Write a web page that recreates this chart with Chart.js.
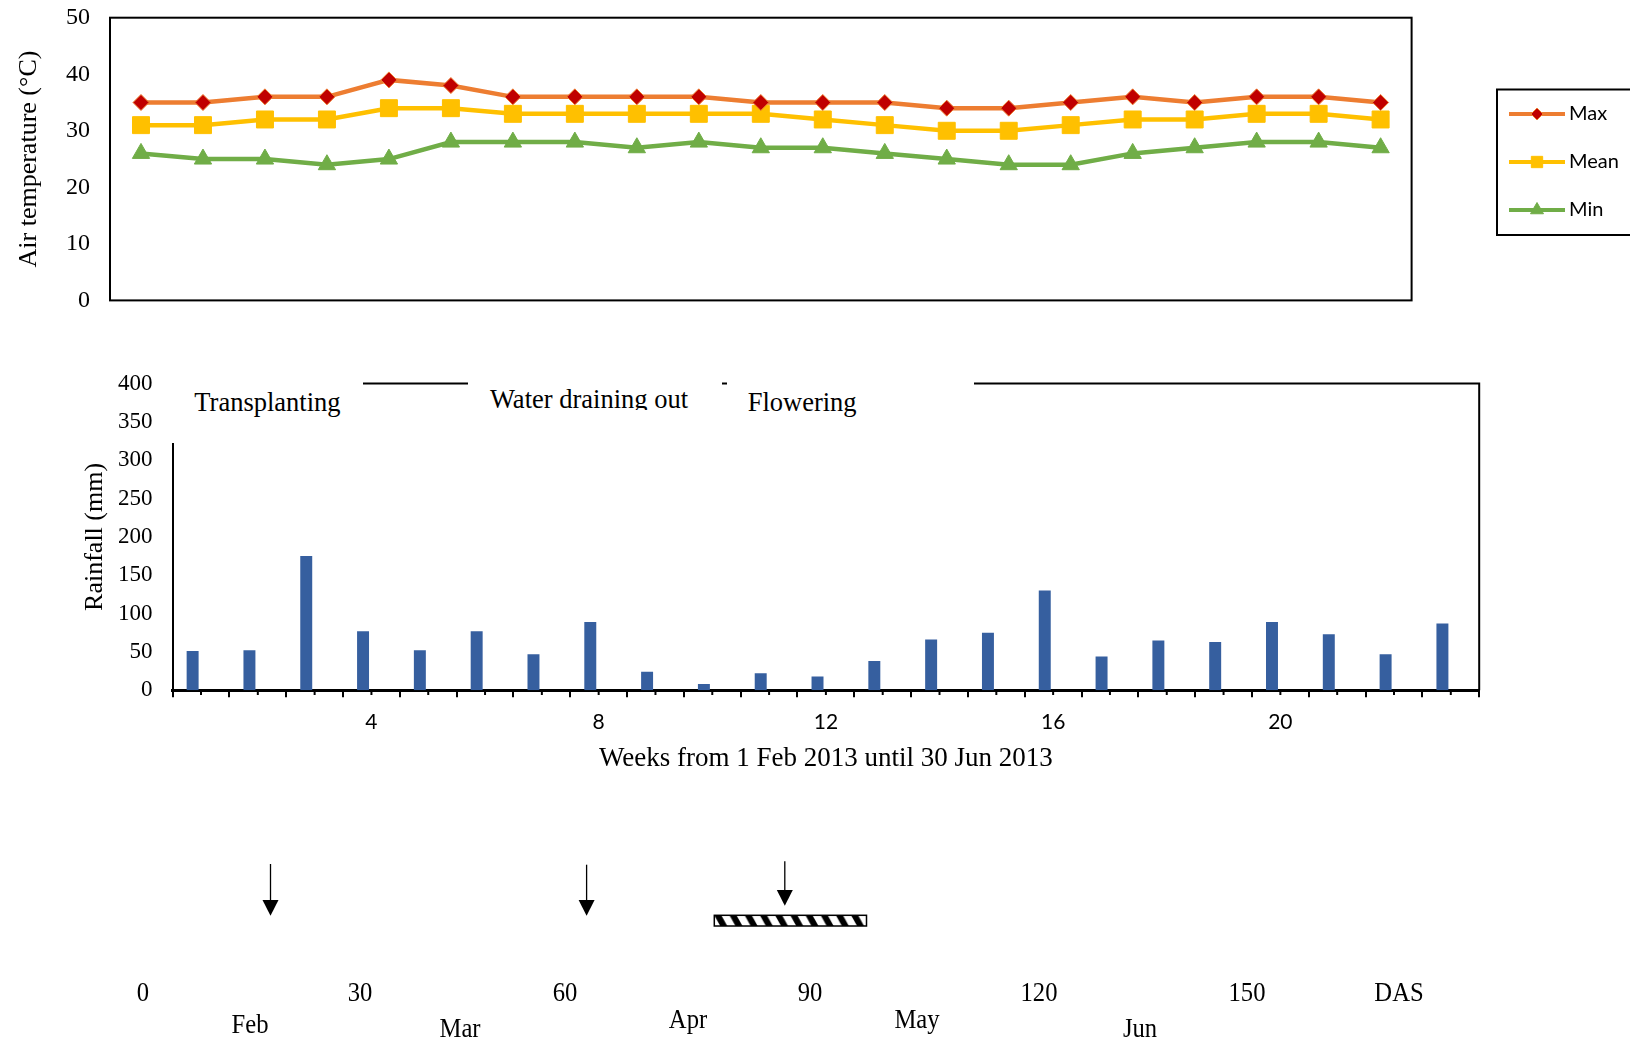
<!DOCTYPE html>
<html>
<head>
<meta charset="utf-8">
<script src="https://cdn.jsdelivr.net/npm/chart.js@4.4.1/dist/chart.umd.min.js"></script>
<style>
  html, body { margin: 0; padding: 0; background: #fff; }
  body { width: 1630px; height: 1043px; position: relative; overflow: hidden; }
  canvas { position: absolute; left: 0; }
  #temp { top: 0; }
  #rain { top: 340px; }
  .stage { position: absolute; background: #fff; overflow: hidden; }
  .stage span { position: absolute; font: 26.5px/26.5px 'Liberation Serif', serif; color: #000; white-space: nowrap; }
  .tl { position: absolute; font: 28px/28px 'Liberation Serif', serif; color: #000; white-space: nowrap;
        transform: translate(-50%, -50%) scaleX(0.88); }
  svg { position: absolute; left: 0; top: 0; }
</style>
</head>
<body>
<canvas id="temp" width="1630" height="330"></canvas>
<canvas id="rain" width="1520" height="440"></canvas>
<div id="stages"></div>
<svg width="1630" height="1043" id="timeline">
  <defs>
    <pattern id="hatch" patternUnits="userSpaceOnUse" x="714.3" y="915.3" width="15.2" height="10.7">
      <polygon points="0,0 7,0 13,10.7 6,10.7" fill="#000"/>
    </pattern>
  </defs>
</svg>
<div id="labels"></div>
<script>
// air temperature, weekly (°C)
const tempWeeks = ['1','2','3','4','5','6','7','8','9','10','11','12','13','14','15','16','17','18','19','20','21'];
const tempMax  = [35,35,36,36,39,38,36,36,36,36,35,35,35,34,34,35,36,35,36,36,35];
const tempMean = [31,31,32,32,34,34,33,33,33,33,33,32,31,30,30,31,32,32,33,33,32];
const tempMin  = [26,25,25,24,25,28,28,28,27,28,27,27,26,25,24,24,26,27,28,28,27];
const tempTicks = [0, 10, 20, 30, 40, 50];

// weekly rainfall (mm)
const rainWeeks = ['1','2','3','4','5','6','7','8','9','10','11','12','13','14','15','16','17','18','19','20','21','22','23'];
const rainfall = [51,52,175,77,52,77,47,89,24,8,22,18,38,66,75,130,44,65,63,89,73,47,87];
const weekTickLabels = ['4','8','12','16','20'];
const rainTicks = [0, 50, 100, 150, 200, 250, 300, 350, 400];

// crop stages and timeline text
const stageLabels = ['Transplanting', 'Water draining out', 'Flowering'];
const dasLabels = ['0', '30', '60', '90', '120', '150', 'DAS'];
const monthLabels = ['Feb', 'Mar', 'Apr', 'May', 'Jun'];

const serif = 'Liberation Serif';

// frame round the temperature plot
const tempFrame = {
    id: 'tempFrame',
    beforeDatasetsDraw(chart) {
        const {ctx, chartArea: a} = chart;
        ctx.save();
        ctx.strokeStyle = '#000';
        ctx.lineWidth = 2;
        ctx.strokeRect(a.left, a.top, a.right - a.left, a.bottom - a.top);
        ctx.restore();
    }
};

// boxed legend to the right, same styles as the datasets
const legendRadius = [6, 8, 7.5];
const boxLegend = {
    id: 'boxLegend',
    afterDraw(chart) {
        const ctx = chart.ctx;
        ctx.save();
        ctx.strokeStyle = '#000';
        ctx.lineWidth = 2;
        ctx.strokeRect(1497, 89.5, 200, 145.5);
        chart.data.datasets.forEach((ds, i) => {
            const y = 114 + i * 48;
            ctx.strokeStyle = ds.borderColor;
            ctx.lineWidth = 4;
            ctx.beginPath();
            ctx.moveTo(1509, y);
            ctx.lineTo(1565, y);
            ctx.stroke();
            ctx.fillStyle = ds.pointBackgroundColor;
            ctx.strokeStyle = ds.pointBorderColor;
            ctx.lineWidth = 1;
            Chart.helpers.drawPoint(ctx, {pointStyle: ds.pointStyle, radius: legendRadius[i], borderWidth: 1, rotation: 0}, 1537, y);
            ctx.fillStyle = '#000';
            ctx.font = '20px Lato';
            ctx.textBaseline = 'middle';
            ctx.textAlign = 'left';
            ctx.fillText(ds.label, 1569, y);
        });
        ctx.restore();
    }
};

new Chart(document.getElementById('temp'), {
    type: 'line',
    data: {
        labels: tempWeeks,
        datasets: [
            {
                label: 'Max',
                data: tempMax,
                borderColor: '#ED7D31',
                borderWidth: 4.5,
                pointStyle: 'rectRot',
                pointRadius: 8,
                pointBackgroundColor: '#C00000',
                pointBorderColor: '#ED7D31',
                pointBorderWidth: 1
            },
            {
                label: 'Mean',
                data: tempMean,
                borderColor: '#FFC000',
                borderWidth: 4.5,
                pointStyle: 'rect',
                pointRadius: 12,
                pointBackgroundColor: '#FFC000',
                pointBorderColor: '#FFC000',
                pointBorderWidth: 1
            },
            {
                label: 'Min',
                data: tempMin,
                borderColor: '#70AD47',
                borderWidth: 4.5,
                pointStyle: 'triangle',
                pointRadius: 10,
                pointBackgroundColor: '#70AD47',
                pointBorderColor: '#70AD47',
                pointBorderWidth: 1
            }
        ]
    },
    options: {
        responsive: false,
        animation: false,
        layout: { padding: { left: 0, top: 17.7, right: 218.4, bottom: 29.6 } },
        scales: {
            x: { type: 'category', offset: true, display: false },
            y: {
                min: tempTicks[0],
                max: tempTicks[tempTicks.length - 1],
                // invisible tick marks give the gap between labels and frame
                grid: { display: false, drawTicks: true, tickLength: 20 },
                border: { display: false },
                ticks: { stepSize: 10, padding: 0, color: '#000', font: { family: serif, size: 24 } },
                title: {
                    display: true,
                    text: 'Air temperature (°C)',
                    color: '#000',
                    font: { family: serif, size: 26 },
                    padding: { top: 13.2, bottom: 0 }
                },
                afterFit: (s) => { s.width = 110; }
            }
        },
        plugins: {
            legend: { display: false },
            tooltip: { enabled: false }
        }
    },
    plugins: [tempFrame, boxLegend]
});

// top and right edges of the rainfall frame, plus the short ticks at mid-week
const rainFrame = {
    id: 'rainFrame',
    afterDraw(chart) {
        const {ctx, chartArea: a, scales: {x}} = chart;
        ctx.save();
        ctx.strokeStyle = '#000';
        ctx.lineWidth = 2;
        ctx.beginPath();
        ctx.moveTo(a.left, a.top);
        ctx.lineTo(a.right, a.top);
        ctx.lineTo(a.right, a.bottom);
        ctx.stroke();
        rainWeeks.forEach((w, i) => {
            const px = x.getPixelForValue(i);
            ctx.beginPath();
            ctx.moveTo(px, a.bottom);
            ctx.lineTo(px, a.bottom + 4.8);
            ctx.stroke();
        });
        ctx.restore();
    }
};

// second, empty slot keeps the bars left of the week centre, as in the original
const emptySlot = rainWeeks.map(() => null);

new Chart(document.getElementById('rain'), {
    type: 'bar',
    data: {
        labels: rainWeeks,
        datasets: [
            {
                label: 'Rainfall',
                data: rainfall,
                backgroundColor: '#365F9F',
                categoryPercentage: 0.59,
                barPercentage: 0.714
            },
            {
                label: '',
                data: emptySlot,
                categoryPercentage: 0.59,
                barPercentage: 0.714
            }
        ]
    },
    options: {
        responsive: false,
        animation: false,
        layout: { padding: { left: 0, top: 43.6, right: 40.8, bottom: 0 } },
        scales: {
            x: {
                offset: true,
                grid: { display: true, offset: true, drawOnChartArea: false, drawTicks: true, tickLength: 7, lineWidth: 2, color: '#000' },
                border: { display: true, width: 3, color: '#000' },
                ticks: {
                    autoSkip: false,
                    maxRotation: 0,
                    padding: 12.7,
                    color: '#000',
                    font: { family: 'Lato', size: 21 },
                    callback: (v, i) => weekTickLabels.includes(rainWeeks[i]) ? rainWeeks[i] : ''
                },
                title: {
                    display: true,
                    text: 'Weeks from 1 Feb 2013 until 30 Jun 2013',
                    color: '#000',
                    font: { family: serif, size: 27 },
                    padding: { top: 0, bottom: 5.2 }
                },
                afterFit: (s) => { s.height = 89.8; }
            },
            y: {
                min: rainTicks[0],
                max: rainTicks[rainTicks.length - 1],
                grid: { display: false, drawTicks: true, tickLength: 20 },
                border: { display: true, width: 2, color: '#000' },
                ticks: { stepSize: 50, padding: 0, color: '#000', font: { family: serif, size: 23 } },
                title: {
                    display: true,
                    text: 'Rainfall (mm)',
                    color: '#000',
                    font: { family: serif, size: 26 },
                    padding: { top: 79.8, bottom: 0 }
                },
                afterFit: (s) => { s.width = 172.6; }
            }
        },
        plugins: {
            legend: { display: false },
            tooltip: { enabled: false }
        }
    },
    plugins: [rainFrame]
});

// white text boxes with the stage names (they hide parts of the frame)
const stageBoxes = [
    { left: 160, top: 370, width: 203.3, height: 73.3, tx: 34.3, ty: 18.6 },
    { left: 467.7, top: 370, width: 254, height: 39.5, tx: 22.3, ty: 16.4 },
    { left: 726.7, top: 370, width: 247.6, height: 60, tx: 21, ty: 18.6 }
];
const stagesEl = document.getElementById('stages');
stageBoxes.forEach((b, i) => {
    const d = document.createElement('div');
    d.className = 'stage';
    d.style.cssText = `left:${b.left}px;top:${b.top}px;width:${b.width}px;height:${b.height}px;`;
    const s = document.createElement('span');
    s.textContent = stageLabels[i];
    s.style.left = b.tx + 'px';
    s.style.top = b.ty + 'px';
    d.appendChild(s);
    stagesEl.appendChild(d);
});

// arrows and the hatched flowering bar
const svg = document.getElementById('timeline');
const NS = 'http://www.w3.org/2000/svg';
const arrows = [
    { x: 270.5, y0: 864, head: 900 },
    { x: 586.6, y0: 864.7, head: 900 },
    { x: 784.8, y0: 861.3, head: 890 }
];
arrows.forEach(a => {
    const l = document.createElementNS(NS, 'line');
    l.setAttribute('x1', a.x); l.setAttribute('x2', a.x);
    l.setAttribute('y1', a.y0); l.setAttribute('y2', a.head + 2);
    l.setAttribute('stroke', '#000'); l.setAttribute('stroke-width', 1.3);
    svg.appendChild(l);
    const p = document.createElementNS(NS, 'polygon');
    p.setAttribute('points', `${a.x - 8},${a.head} ${a.x + 8},${a.head} ${a.x},${a.head + 15.7}`);
    p.setAttribute('fill', '#000');
    svg.appendChild(p);
});
const bar = document.createElementNS(NS, 'rect');
bar.setAttribute('x', 714.3); bar.setAttribute('y', 915.3);
bar.setAttribute('width', 152.2); bar.setAttribute('height', 10.7);
bar.setAttribute('fill', 'url(#hatch)');
bar.setAttribute('stroke', '#000'); bar.setAttribute('stroke-width', 1.5);
svg.appendChild(bar);

// days-after-sowing and month labels
const dasX = [143, 359.6, 565, 809.5, 1038.5, 1247, 1399];
const monthX = [250, 460, 687.5, 917, 1139.6];
const monthY = [1024, 1028, 1019, 1019, 1028];
const labelsEl = document.getElementById('labels');
function place(text, x, y) {
    const d = document.createElement('div');
    d.className = 'tl';
    d.textContent = text;
    d.style.left = x + 'px';
    d.style.top = y + 'px';
    labelsEl.appendChild(d);
}
dasLabels.forEach((t, i) => place(t, dasX[i], 991.7));
monthLabels.forEach((t, i) => place(t, monthX[i], monthY[i]));
</script>
</body>
</html>
